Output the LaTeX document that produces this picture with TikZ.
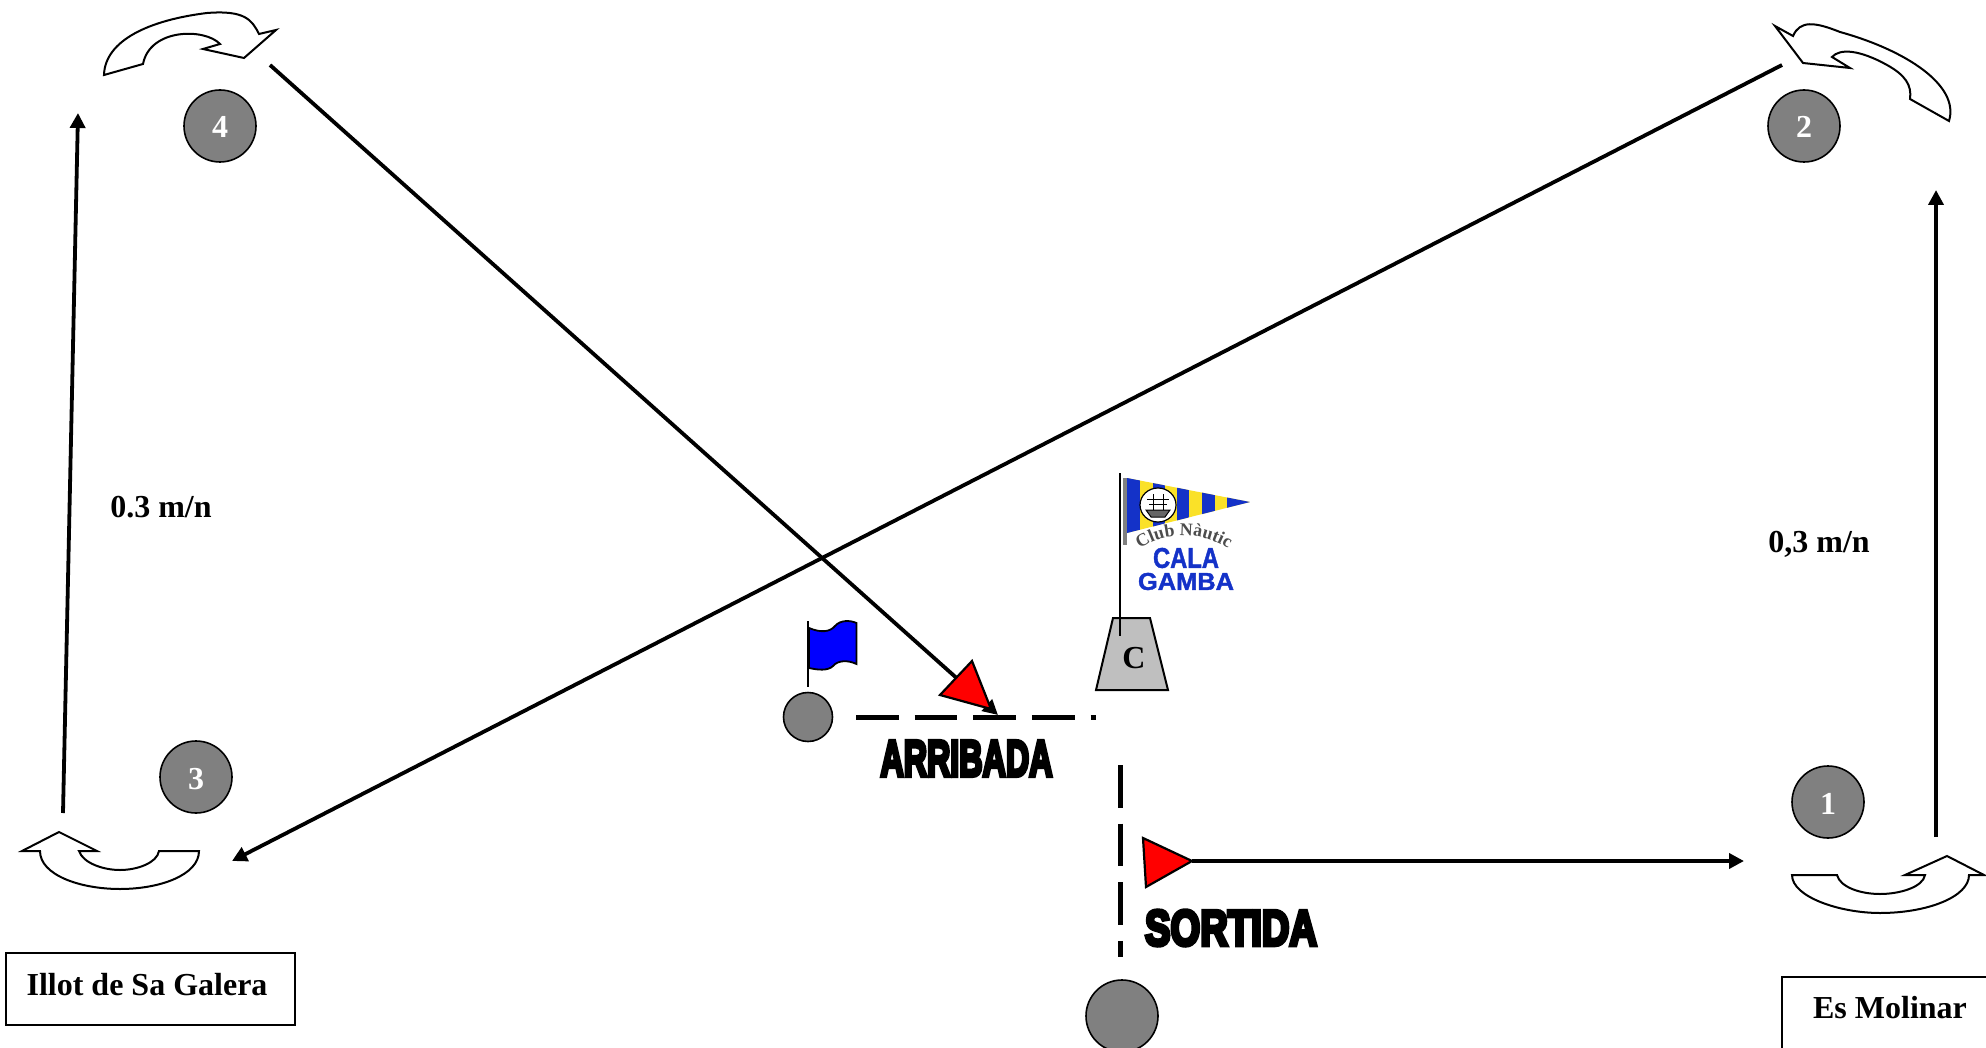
\documentclass[tikz,border=0pt]{standalone}
\usepackage{fontspec}
\setmainfont{Liberation Serif}
\newfontfamily\wordfont[BoldFeatures={FakeBold=8}]{Liberation Sans}
\newfontfamily\logofont[BoldFeatures={FakeBold=1.5}]{Liberation Sans}
\usetikzlibrary{arrows.meta,decorations.text}
\definecolor{logoblue}{RGB}{20,50,200}
\definecolor{logoyellow}{RGB}{250,225,40}
\newcommand{\wordart}[1]{\resizebox{86pt}{17.5pt}{\wordfont\bfseries #1}}
\newcommand{\logoword}[3]{\resizebox{#1}{#2}{\logofont\bfseries\color{logoblue}#3}}
\begin{document}
\begin{tikzpicture}[x=.5pt,y=-.5pt]
\tikzset{
  buoy/.style={circle,draw,fill=gray,line width=.8pt,minimum size=36pt,inner sep=0pt,
    text=white,text height=12pt,text depth=0pt,font=\fontsize{16}{16}\selectfont\bfseries},
  buoyend/.style={circle,draw,fill=gray,line width=.8pt,minimum size=24.5pt,inner sep=0pt},
  leg/.style={line width=1.9pt,-{Triangle[length=7.5pt,width=7.5pt]}},
  turn/.style={draw,fill=white,line width=1pt,line join=miter},
  gate/.style={line width=2.5pt,dash pattern=on 21.33pt off 8pt},
  triangleflag/.style={draw,fill=red,line width=1.1pt,line join=miter},
  place/.style={draw,line width=1.2pt,inner sep=0pt,text height=13pt,text depth=7pt,
    font=\fontsize{16}{16}\selectfont\bfseries},
  dist/.style={font=\fontsize{16}{16}\selectfont\bfseries}
}
\clip (0,0) rectangle (1986,1048);

\coordinate (legA) at (1192,861);
\coordinate (legB) at (1744,861);
\coordinate (legC) at (1936,837);
\coordinate (legD) at (1936,190);
\coordinate (legE) at (1782,65);
\coordinate (legF) at (232,861);
\coordinate (legG) at (63,813);
\coordinate (legH) at (78,113);
\coordinate (legI) at (270,65);
\coordinate (legJ) at (998,715);
\coordinate (finishA) at (856,717.3);
\coordinate (finishB) at (1096,717.3);
\coordinate (startA) at (1120,765);
\coordinate (startB) at (1120,957);

\node[buoy] (buoy1) at (1828,802) {1};
\node[buoy] (buoy2) at (1804,126) {2};
\node[buoy] (buoy3) at (196,777) {3};
\node[buoy] (buoy4) at (220,126) {4};
\node[buoy] (pinstart) at (1122,1016) {};
\node[buoyend] (pinfinish) at (808,717) {};

\draw[leg] (legA) -- (legB);
\draw[leg] (legC) -- (legD);
\draw[leg] (legE) -- (legF);
\draw[leg] (legG) -- (legH);
\draw[leg] (legI) -- (legJ);
\draw[gate] (finishA) -- (finishB);
\draw[gate] (startA) -- (startB);

\draw[triangleflag] (972,661) -- (940,695) -- (991,709) -- cycle;
\draw[triangleflag] (1143,838) -- (1192,861) -- (1146,887) -- cycle;

\path[turn] (104,75) .. controls (105,40) and (150,20) .. (207,13)
  .. controls (245,10) and (252,20) .. (259,34) -- (276,30) -- (244,58) -- (203,49) -- (220,44)
  .. controls (205,28) and (150,28) .. (143,64) -- cycle;
\path[turn] (1949,121) .. controls (1960,85) and (1905,50) .. (1840,32)
  .. controls (1815,22) and (1800,20) .. (1793,36) -- (1775,26) -- (1803,63) -- (1850,68) -- (1832,57)
  .. controls (1840,48) and (1860,50) .. (1887,65)
  .. controls (1905,75) and (1912,85) .. (1910,99) -- cycle;
\path[turn] (199,851) .. controls (199,875) and (160,889) .. (120,889)
  .. controls (80,889) and (40,875) .. (40,851) -- (22,851) -- (59,832) -- (97,851) -- (79,851)
  .. controls (83,863) and (103,870) .. (120,870)
  .. controls (137,870) and (157,863) .. (159,851) -- cycle;
\path[turn] (1792,875) .. controls (1792,897) and (1840,913) .. (1880,913)
  .. controls (1927,913) and (1969,897) .. (1969,875) -- (1984,875) -- (1947,856) -- (1905,875) -- (1925,875)
  .. controls (1923,887) and (1900,894) .. (1880,894)
  .. controls (1860,894) and (1840,887) .. (1837,875) -- cycle;

\draw[line width=1.1pt] (808,621) -- (808,687);
\draw[draw,fill=blue,line width=.9pt] (809,628) .. controls (821,633) and (830,632) .. (835,626)
  .. controls (840,620) and (850,620) .. (856.5,623) -- (856.5,664)
  .. controls (848,660) and (838,660) .. (833,666) .. controls (828,671) and (818,670) .. (809,668) -- cycle;

\draw[draw,fill=black!25,line width=1pt] (1113,618) -- (1150,618) -- (1168,690) -- (1096,690) -- cycle;
\node[font=\fontsize{16}{16}\selectfont\bfseries] (buoyC) at (1134,658) {C};
\draw[line width=.7pt] (1120,473) -- (1120,636);

\begin{scope}
\clip (1127,478) -- (1250,502) -- (1127,533) -- cycle;
\fill[logoyellow] (1127,470) rectangle (1250,540);
\foreach \xa/\xb in {1127/1140,1153/1165,1177/1189,1202/1215,1227/1250}
  \fill[logoblue] (\xa,470) rectangle (\xb,540);
\end{scope}
\fill[gray] (1123,478) rectangle (1127,545);
\draw[fill=white,line width=.6pt] (1158,505) ellipse (18 and 17);
\draw[fill=black!60,line width=.5pt] (1146,510) -- (1170,510) -- (1165,517) -- (1151,517) -- cycle;
\draw[line width=.4pt] (1153,494) -- (1153,510) (1163,494) -- (1163,510) (1147,499) -- (1169,499) (1149,504) -- (1167,504);
\path[decorate,decoration={text along path,text align=center,
  text={|\fontsize{9}{9}\selectfont\bfseries\color{black!70}|Club Nàutic}}]
  (1139,549) .. controls (1165,531) and (1200,531) .. (1229,549);
\node[inner sep=0pt] (logoA) at (1186,558) {\logoword{33pt}{10pt}{CALA}};
\node[inner sep=0pt] (logoB) at (1186,581.5) {\logoword{48pt}{8.5pt}{GAMBA}};

\node[inner sep=0pt] (arribada) at (966.5,758.5) {\wordart{ARRIBADA}};
\node[inner sep=0pt] (sortida) at (1231,928) {\wordart{SORTIDA}};

\node[place,minimum width=144.5pt,minimum height=36pt] (galera) at (150.5,989) {Illot de Sa Galera\kern3.5pt\relax};
\node[place,minimum width=108pt,minimum height=40pt,text depth=12pt] (molinar) at (1890,1017) {Es Molinar};
\node[dist] (distA) at (161,507) {0.3 m/n};
\node[dist] (distB) at (1819,544) {0,3 m/n};
\end{tikzpicture}
\end{document}
